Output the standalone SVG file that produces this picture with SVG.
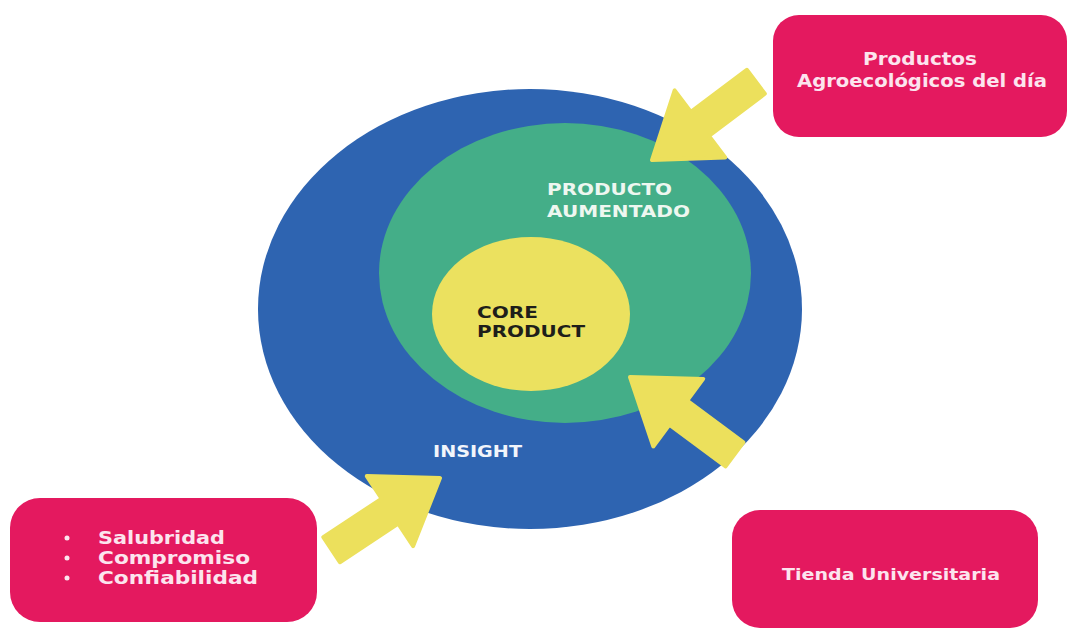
<svg xmlns="http://www.w3.org/2000/svg" width="1069" height="631" viewBox="0 0 1069 631">
  <style>
    .box { fill: #E4195F; }
    .boxtxt { font-family: "DejaVu Sans", "Liberation Sans", sans-serif; font-weight: bold; fill: #FCE4EE; }
    .ring { font-family: "DejaVu Sans", "Liberation Sans", sans-serif; font-weight: bold; font-size: 15px; }
    .arrow { fill: #ECE05C; stroke: #ECE05C; stroke-width: 4; stroke-linejoin: round; }
  </style>
  <defs>
    <!-- block arrow pointing along +x, tip at the origin -->
    <polygon id="blockArrow" points="0,0 -60,-42 -60,-15 -130,-15 -130,15 -60,15 -60,42"/>
  </defs>
  <rect width="1069" height="631" fill="#FFFFFF"/>

  <!-- concentric product layers -->
  <g id="insight">
    <ellipse cx="530" cy="309" rx="272" ry="220" fill="#2E64B1"/>
    <text class="ring" x="433" y="457" fill="#F2F5FB" textLength="89" lengthAdjust="spacingAndGlyphs">INSIGHT</text>
  </g>
  <g id="producto-aumentado">
    <ellipse cx="565" cy="273" rx="186" ry="150" fill="#44AE88"/>
    <text class="ring" x="547" y="195" fill="#EEF7F0" textLength="125" lengthAdjust="spacingAndGlyphs">PRODUCTO</text>
    <text class="ring" x="547" y="217" fill="#EEF7F0" textLength="143" lengthAdjust="spacingAndGlyphs">AUMENTADO</text>
  </g>
  <g id="core-product">
    <ellipse cx="531" cy="314" rx="99" ry="77" fill="#EBE15F"/>
    <text class="ring" x="477" y="318" fill="#1E1E1A" textLength="61" lengthAdjust="spacingAndGlyphs">CORE</text>
    <text class="ring" x="477" y="337" fill="#1E1E1A" textLength="108" lengthAdjust="spacingAndGlyphs">PRODUCT</text>
  </g>

  <!-- connectors -->
  <g id="connectors">
    <use href="#blockArrow" class="arrow" transform="translate(652,160) rotate(143)"/>
    <use href="#blockArrow" class="arrow" transform="translate(630,377) rotate(216.5)"/>
    <use href="#blockArrow" class="arrow" transform="translate(440,478) rotate(-33.5)"/>
  </g>

  <!-- label boxes -->
  <g id="productos-dia">
    <rect class="box" x="773" y="15" width="294" height="122" rx="26"/>
    <text class="boxtxt" font-size="17" x="863" y="65" textLength="114" lengthAdjust="spacingAndGlyphs">Productos</text>
    <text class="boxtxt" font-size="17" x="797" y="87" textLength="250" lengthAdjust="spacingAndGlyphs">Agroecológicos del día</text>
  </g>
  <g id="valores">
    <rect class="box" x="10" y="498" width="307" height="124" rx="30"/>
    <g class="boxtxt" font-size="18">
      <circle cx="67" cy="538" r="2.5" fill="#FCE4EE"/>
      <circle cx="67" cy="558" r="2.5" fill="#FCE4EE"/>
      <circle cx="67" cy="578" r="2.5" fill="#FCE4EE"/>
      <text x="98" y="544" textLength="127" lengthAdjust="spacingAndGlyphs">Salubridad</text>
      <text x="98" y="564" textLength="152" lengthAdjust="spacingAndGlyphs">Compromiso</text>
      <text x="98" y="584" textLength="160" lengthAdjust="spacingAndGlyphs">Confiabilidad</text>
    </g>
  </g>
  <g id="tienda">
    <rect class="box" x="732" y="510" width="306" height="118" rx="28"/>
    <text class="boxtxt" font-size="16" x="782" y="580" textLength="218" lengthAdjust="spacingAndGlyphs">Tienda Universitaria</text>
  </g>
</svg>
